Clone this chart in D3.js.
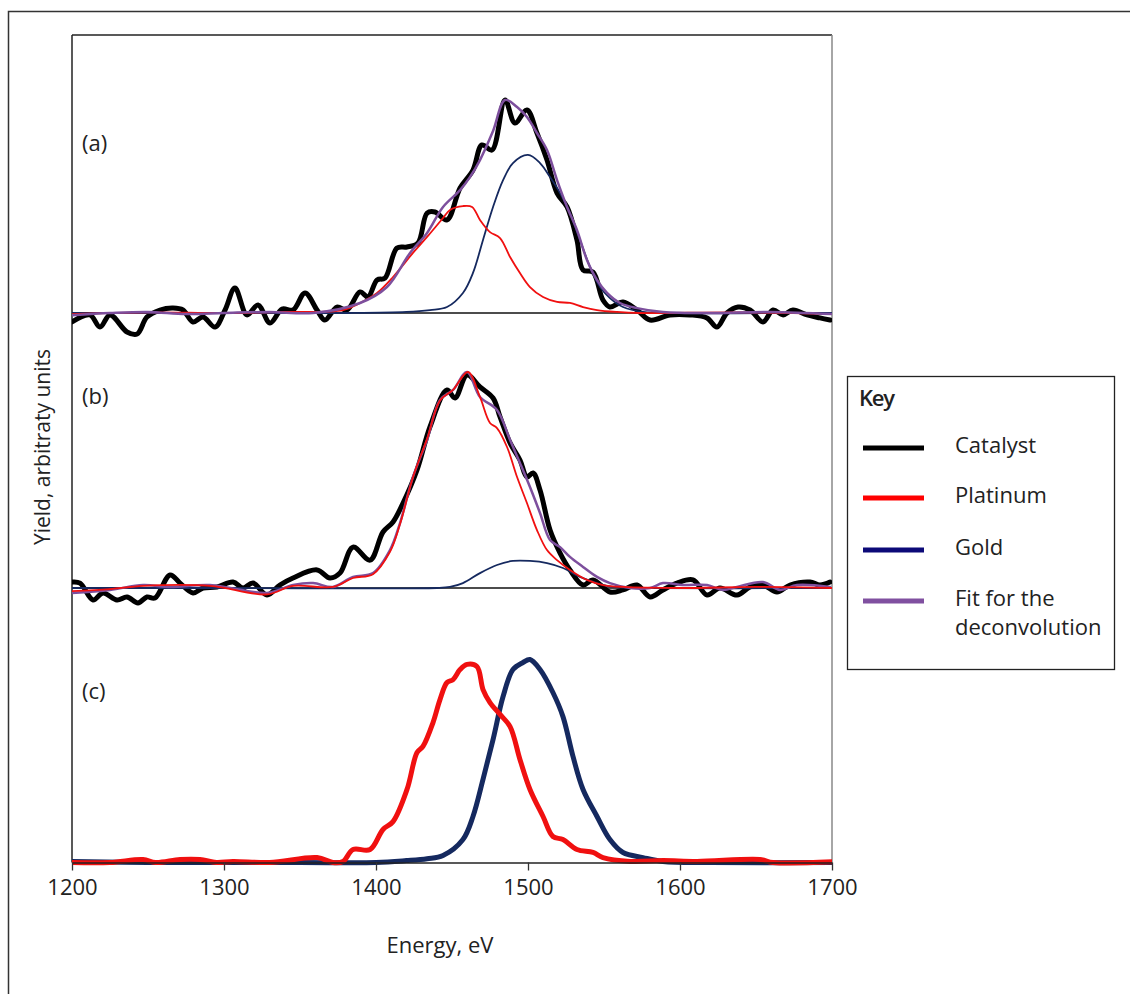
<!DOCTYPE html>
<html>
<head>
<meta charset="utf-8">
<script src="https://cdn.jsdelivr.net/npm/d3@7"></script>
<style>
  html, body { margin: 0; padding: 0; background: #fff; }
  svg { display: block; }
  text { font-family: "Open Sans", "Noto Sans", sans-serif; fill: #222; }
</style>
</head>
<body>
<svg id="chart" width="1130" height="994"></svg>
<script>
// ---------- DATA (energy eV, yield arbitrary units) ----------
const xTicks = [1200, 1300, 1400, 1500, 1600, 1700];
const panelLabels = ["(a)", "(b)", "(c)"];
const legendLabels = ["Catalyst", "Platinum", "Gold", ["Fit for the", "deconvolution"]];

// Panel (a)
const aCatalyst = [[1200,-4.2],[1211.8,-0.9],[1218.4,-6.6],[1225,-0.9],[1236.2,-8.9],[1242.8,-9.9],[1249.3,-1.9],[1257.9,1.4],[1266.4,2.3],[1273,1.4],[1279.6,-4.2],[1286.2,-1.9],[1294.1,-6.6],[1300.7,1.4],[1307.2,11.7],[1315.1,-0.9],[1322.4,3.8],[1330.3,-4.7],[1338.2,1.9],[1345.4,1.4],[1353.3,9.4],[1361.2,1.4],[1366.4,-3.3],[1374.3,2.8],[1380.9,1.4],[1389.5,9.9],[1394.7,7.5],[1400.7,15.5],[1405.9,16.4],[1413.8,30.5],[1420.4,31],[1427.6,32.9],[1433.6,46.9],[1438.8,47.4],[1446.7,43.7],[1455.3,58.7],[1463.8,67.1],[1469.7,78.9],[1476.3,76.5],[1484.9,100],[1491.4,89.2],[1499.3,95.3],[1505.9,84.5],[1512.5,71.8],[1519.1,56.3],[1525.7,49.8],[1532.2,34.3],[1536.2,20.2],[1542.8,19.2],[1549.3,6.1],[1553.9,2.8],[1562.5,5.2],[1571.7,1.4],[1580.3,-3.3],[1593.4,-0.9],[1606.6,-0.9],[1617.8,-2.3],[1624.3,-6.6],[1630.9,0],[1638.2,2.8],[1646.1,1.4],[1654.6,-4.2],[1661.2,1.4],[1667.8,-0.9],[1674.3,1.4],[1683.6,-0.9],[1692.1,-2.3],[1698.7,-3.3]];
const aPlatinum = [[1200,-0.5],[1250,0.3],[1300,0],[1340,0.5],[1378.3,1.4],[1389.5,4.7],[1400.7,9.4],[1411.2,16.9],[1424.3,28.2],[1433.6,35.7],[1444.1,44.6],[1448.7,48.4],[1457.2,50.2],[1463.2,49.8],[1468.4,43.7],[1475,38],[1481.6,35.2],[1488.2,26.3],[1494.7,18.8],[1501.3,12.2],[1509.9,7.5],[1519.1,5.2],[1527.6,4.7],[1536.2,2.8],[1545.4,1.4],[1558.6,0.5],[1573,0],[1640,0.3],[1700,-0.5]];
const aGold = [[1200,0],[1300,0],[1380,0],[1420,0.5],[1435.5,1.4],[1446.7,2.8],[1457.2,9.4],[1463.8,18.8],[1470.4,34.3],[1477,49.8],[1483.6,62.4],[1490.1,70.4],[1500,74.2],[1507.9,70.4],[1514.5,63.8],[1521.1,56.3],[1527.6,46.9],[1534.2,34.3],[1540.8,21.6],[1547.4,12.2],[1553.9,7],[1562.5,2.8],[1575.7,0.5],[1600,0],[1700,0]];
const aFit = [[1200,-1],[1225,0],[1250,0.5],[1275,-0.5],[1300,0],[1330,0.5],[1358.6,0],[1389.5,4.7],[1407.2,12.2],[1422.4,28.2],[1433.6,37.6],[1444.1,49.8],[1455.3,57.7],[1461.8,63.8],[1468.4,71.8],[1477,85.4],[1484.9,100],[1492.8,96.7],[1499.3,92],[1505.9,84.5],[1512.5,76.5],[1519.1,62.4],[1525.7,49.8],[1532.2,39],[1538.8,24.9],[1545.4,15.5],[1552,9.4],[1560.5,4.7],[1571.7,2.3],[1588.8,0.5],[1620,0],[1660,0.5],[1700,-0.5]];

// Panel (b)
const bCatalyst = [[1200,2.8],[1205.3,2.3],[1213.8,-5.6],[1220.4,-2.3],[1229.6,-5.6],[1236.2,-4.2],[1243.4,-7],[1249.3,-4.2],[1254.6,-4.7],[1264.5,6.1],[1271.1,2.3],[1279.6,-2.3],[1286.2,0],[1295.4,0.5],[1305.9,2.8],[1312.5,0],[1319.1,2.3],[1328.3,-3.3],[1336.8,1.4],[1345.4,4.7],[1361.2,8.5],[1369.7,4.7],[1376.3,7],[1384.9,19.2],[1396.1,13.1],[1404.6,26.3],[1411.2,31],[1417.8,39.9],[1427,55.4],[1435.5,75.6],[1446.7,93],[1452,89.2],[1459.9,100],[1468.4,94.4],[1477,89.2],[1481.6,80.3],[1488.2,68.1],[1494.7,60.1],[1499.3,52.1],[1503.3,54],[1507.9,46],[1514.5,27.2],[1521.1,16.4],[1527.6,8.5],[1536.2,1.4],[1542.8,3.8],[1553.9,-1.9],[1562.5,-0.9],[1571.7,1.4],[1580.3,-4.2],[1588.8,-0.9],[1598,2.3],[1608.6,3.8],[1617.8,-3.3],[1626.3,0],[1637.5,-3.3],[1646.1,0.5],[1654.6,1.4],[1663.8,-1.9],[1672.4,1.4],[1685.5,2.8],[1692.1,1.4],[1698.7,2.8]];
const bPlatinum = [[1200,-1.5],[1225,-0.5],[1246.7,1],[1290.8,1],[1328.3,-3],[1345.4,1],[1371.7,0.5],[1384.9,4.7],[1398,6.5],[1409.2,17],[1415.8,30],[1424.3,52],[1433.6,70],[1442.1,88],[1450.7,93],[1460.5,101.4],[1468.4,89.7],[1475,77.5],[1479.6,75.1],[1486.2,66.2],[1492.8,52.1],[1499.3,39.9],[1505.9,27.2],[1512.5,17.8],[1519.1,13.1],[1527.6,8.5],[1538.8,3.8],[1549.3,1.4],[1562.5,0.5],[1600,0],[1650,0.5],[1700,0]];
const bGold = [[1200,0],[1300,0],[1440,0],[1448.7,0.5],[1457.2,2.3],[1468.4,7],[1479.6,10.8],[1490.1,12.7],[1501.3,12.7],[1512.5,11.7],[1523,9.4],[1534.2,5.2],[1545.4,2.3],[1555.9,0.5],[1580,0],[1700,0]];
const bFit = [[1200,-2.3],[1225,-0.9],[1246.7,1.4],[1264.5,0.5],[1290.8,1.4],[1328.3,-2.3],[1345.4,1.4],[1358.6,2.3],[1371.7,0.5],[1384.9,5.2],[1398,7],[1409.2,17.8],[1415.8,30.5],[1424.3,52.1],[1433.6,69.5],[1442.1,88.3],[1450.7,93],[1459.9,101.4],[1468.4,89.7],[1479.6,83.6],[1488.2,69.5],[1494.7,58.7],[1501.3,47.4],[1507.9,35.2],[1514.5,22.5],[1521.1,19.2],[1527.6,14.6],[1536.2,9.9],[1545.4,5.2],[1553.9,2.3],[1567.1,0],[1580.3,0],[1588.8,2.3],[1602,1.4],[1617.8,1.4],[1628.3,-0.9],[1637.5,0.5],[1654.6,2.8],[1665.8,-0.9],[1677,1.4],[1698.7,0.5]];

// Panel (c)
const cPlatinum = [[1200,0],[1225,0],[1246.7,1.4],[1255,0],[1271.1,1.4],[1284.2,1.4],[1295,0],[1305.9,0.5],[1330,0],[1361.2,2.3],[1371.7,0],[1378.3,0.5],[1384.9,6.1],[1396.1,6.1],[1404.6,15.5],[1411.2,19.2],[1420.4,34.3],[1427,51.6],[1430.9,54.5],[1437.5,65.7],[1442.1,76.5],[1446.7,84.5],[1450.7,85.9],[1455.3,90.6],[1459.9,93],[1466.4,92],[1470.4,81.2],[1475,75.1],[1481.6,69.5],[1488.2,63.8],[1494.7,48.4],[1501.3,34.3],[1509.9,21.6],[1516.4,12.2],[1523,10.8],[1532.2,6.1],[1542.8,4.7],[1549.3,2.3],[1567.1,0.5],[1588.8,0.9],[1611.2,0.5],[1652.6,1.4],[1661.2,0],[1700,0.3]];
const cGold = [[1200,0.5],[1250,0],[1350,0],[1400,0],[1420,0.9],[1433.6,1.8],[1444.1,3.3],[1457.2,10.8],[1463.8,21.6],[1470.4,39],[1477,57.7],[1483.6,77.9],[1490.1,90.6],[1496.7,93.9],[1501.3,95.3],[1507.9,90.6],[1516.4,79.8],[1523,68.5],[1529.6,49.8],[1536.2,34.3],[1545.4,21.6],[1553.9,10.8],[1562.5,4.7],[1575.7,2.3],[1588.8,0.5],[1620,0],[1700,0]];

// ---------- LAYOUT ----------
const svg = d3.select("#chart");
const plotL = 72, plotR = 832, plotT = 35, plotB = 862.5;
const baselines = [313, 588, 862.5];
const unitPx = 2.13; // px per yield unit

const x = d3.scaleLinear().domain([1200, 1700]).range([plotL, plotR]);
const yScales = baselines.map(b => d3.scaleLinear().domain([0, 100]).range([b, b - 100 * unitPx]));

const colors = { catalyst: "#000000", platinum: "#f01010", gold: "#15295f", fit: "#7d4f9d" };
const legendColors = ["#000000", "#ff0000", "#0c0a78", "#8050a0"];

// Outer frame
svg.append("path").attr("d", "M8.5,1000 L8.5,11.5 L1140,11.5")
  .attr("fill", "none").attr("stroke", "#333").attr("stroke-width", 1.5);

// plot box
svg.append("line").attr("x1", plotL).attr("x2", plotR).attr("y1", plotT).attr("y2", plotT)
  .attr("stroke", "#222").attr("stroke-width", 1.3);
svg.append("line").attr("x1", plotL).attr("x2", plotL).attr("y1", plotT).attr("y2", plotB)
  .attr("stroke", "#222").attr("stroke-width", 1.5);
svg.append("line").attr("x1", plotR).attr("x2", plotR).attr("y1", plotT).attr("y2", plotB)
  .attr("stroke", "#888").attr("stroke-width", 1.5);

// panel baselines (a), (b)
[0, 1].forEach(i => {
  svg.append("line").attr("x1", plotL).attr("x2", plotR)
    .attr("y1", yScales[i](0)).attr("y2", yScales[i](0))
    .attr("stroke", "#111").attr("stroke-width", 1.5);
});

svg.append("defs").append("clipPath").attr("id", "clip")
  .append("rect").attr("x", plotL).attr("y", plotT).attr("width", plotR - plotL).attr("height", plotB - plotT + 10);

const g = svg.append("g").attr("clip-path", "url(#clip)");

function drawLine(data, panel, color, width) {
  const line = d3.line().x(d => x(d[0])).y(d => yScales[panel](d[1])).curve(d3.curveCatmullRom.alpha(0.5));
  g.append("path").datum(data).attr("d", line)
    .attr("fill", "none").attr("stroke", color).attr("stroke-width", width)
    .attr("stroke-linejoin", "round").attr("stroke-linecap", "round");
}

// (a)
drawLine(aCatalyst, 0, colors.catalyst, 5);
drawLine(aGold, 0, colors.gold, 1.8);
drawLine(aPlatinum, 0, colors.platinum, 1.8);
drawLine(aFit, 0, colors.fit, 2.5);
// (b)
drawLine(bCatalyst, 1, colors.catalyst, 5);
drawLine(bGold, 1, colors.gold, 1.8);
drawLine(bFit, 1, colors.fit, 2.5);
drawLine(bPlatinum, 1, colors.platinum, 1.8);
// (c)
drawLine(cGold, 2, colors.gold, 5);
drawLine(cPlatinum, 2, colors.platinum, 5);

// x axis
const xAxis = d3.axisBottom(x).tickValues(xTicks).tickSize(8).tickSizeOuter(0).tickPadding(10).tickFormat(d3.format("d"));
const ax = svg.append("g").attr("transform", `translate(0,${plotB})`).call(xAxis);
ax.select(".domain").attr("stroke", "#222").attr("stroke-width", 1.5);
ax.selectAll(".tick line").attr("stroke", "#333").attr("stroke-width", 1.3);
ax.selectAll(".tick text").attr("font-size", 22).attr("font-family", "Open Sans, Noto Sans, sans-serif").attr("fill", "#222").attr("dy", "0.68em");

// axis titles
svg.append("text").attr("x", 440).attr("y", 953).attr("text-anchor", "middle")
  .attr("font-size", 22).text("Energy, eV");
svg.append("text").attr("transform", "translate(50,447) rotate(-90)").attr("text-anchor", "middle")
  .attr("font-size", 21).text("Yield, arbitraty units");

// panel labels
const labelY = [151, 404, 699];
panelLabels.forEach((t, i) => {
  svg.append("text").attr("x", 82).attr("y", labelY[i]).attr("font-size", 22).text(t);
});

// legend
const lg = svg.append("g");
lg.append("rect").attr("x", 847.5).attr("y", 376.5).attr("width", 267).attr("height", 293)
  .attr("fill", "#fff").attr("stroke", "#222").attr("stroke-width", 1.3);
lg.append("text").attr("x", 859).attr("y", 406).attr("font-size", 22).attr("font-weight", 600)
  .attr("letter-spacing", -1.2).attr("fill", "#000").text("Key");
const rowY = [448, 498, 550, 601];
legendLabels.forEach((lab, i) => {
  lg.append("line").attr("x1", 863).attr("x2", 924).attr("y1", rowY[i]).attr("y2", rowY[i])
    .attr("stroke", legendColors[i]).attr("stroke-width", 5);
  const t = lg.append("text").attr("x", 955).attr("y", rowY[i] + 5).attr("font-size", 22);
  if (Array.isArray(lab)) {
    lab.forEach((s, j) => t.append("tspan").attr("x", 955).attr("dy", j === 0 ? 0 : 29).text(s));
  } else t.text(lab);
});
</script>
</body>
</html>
